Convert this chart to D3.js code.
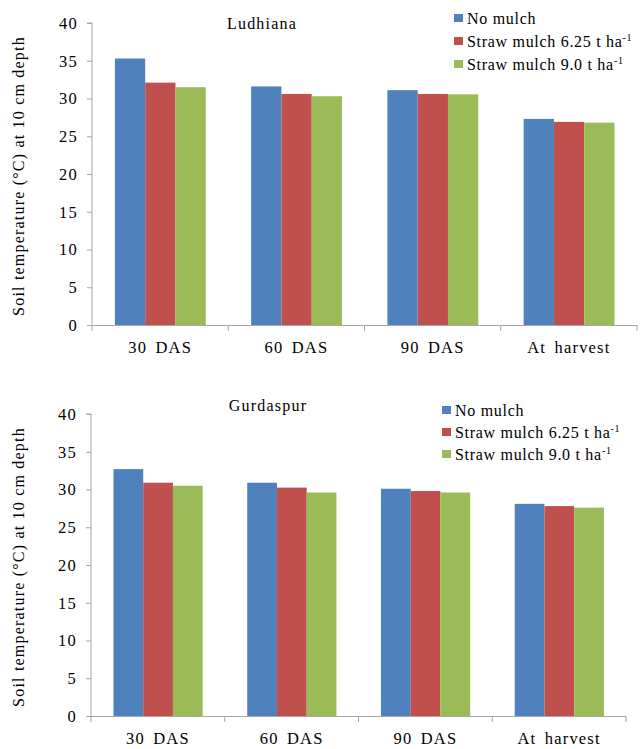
<!DOCTYPE html>
<html>
<head>
<meta charset="utf-8">
<script src="https://cdn.jsdelivr.net/npm/d3@7"></script>
<style>
  body { margin: 0; background: #fff; }
  svg text { fill: #000; letter-spacing: 1.2px; }
  .axis path, .axis line { stroke: #a6a6a6; }
</style>
</head>
<body>
<svg width="644" height="749" font-family="'Liberation Serif', 'Times New Roman', Times, 'DejaVu Serif', serif"></svg>
<script>
// soil temperature at 10 cm depth
const categories = ['30 DAS', '60 DAS', '90 DAS', 'At harvest'];
const series = ['No mulch', 'Straw mulch 6.25', 'Straw mulch 9.0'];
const colors = ['#4f81bd', '#c0504d', '#9bbb59'];
const yTicks = [0, 5, 10, 15, 20, 25, 30, 35, 40];

const ludhianaNoMulch = [35.3, 31.6, 31.1, 27.3];
const ludhianaStraw625 = [32.1, 30.6, 30.6, 26.9];
const ludhianaStraw90 = [31.5, 30.3, 30.55, 26.8];

const gurdaspurNoMulch = [32.7, 30.9, 30.1, 28.1];
const gurdaspurStraw625 = [30.9, 30.25, 29.8, 27.8];
const gurdaspurStraw90 = [30.5, 29.6, 29.6, 27.6];

const serif = "'Liberation Serif', 'Times New Roman', Times, 'DejaVu Serif', serif";
const svg = d3.select('svg');

function drawPanel(opt) {
  const values = opt.values;
  const x = d3.scaleBand()
    .domain(categories)
    .range([opt.left, opt.right]);
  const bw = x.bandwidth();
  const xSub = d3.scaleBand()
    .domain(series)
    .range([bw * 0.168, bw * 0.835]);
  const y = d3.scaleLinear()
    .domain([0, 40])
    .range([opt.bottom, opt.top]);

  const g = svg.append('g');

  // y axis
  const yAxis = g.append('g')
    .attr('class', 'axis')
    .attr('transform', `translate(${opt.left},0)`)
    .call(d3.axisLeft(y).tickValues(yTicks).tickSize(5).tickPadding(9).tickSizeOuter(0));
  yAxis.attr('font-family', null);
  yAxis.selectAll('text').style('font-size', '16.5px').style('font-family', serif);
  yAxis.select('.domain').attr('d', `M0,${opt.bottom}V${opt.top}H-5`);

  // x axis: tick marks at category boundaries
  const xAxis = g.append('g')
    .attr('class', 'axis')
    .attr('transform', `translate(0,${opt.bottom})`);
  xAxis.append('line')
    .attr('x1', opt.left).attr('x2', opt.right)
    .attr('y1', 0.5).attr('y2', 0.5);
  xAxis.selectAll('.bound')
    .data(categories.concat(['end']))
    .enter().append('line')
    .attr('class', 'bound')
    .attr('x1', (d, i) => i < categories.length ? x(d) : opt.right)
    .attr('x2', (d, i) => i < categories.length ? x(d) : opt.right)
    .attr('y1', 0).attr('y2', 6);

  g.selectAll('.xlab')
    .data(categories)
    .enter().append('text')
    .attr('class', 'xlab')
    .attr('x', (d) => x(d) + bw / 2)
    .attr('y', opt.bottom + 28)
    .attr('text-anchor', 'middle')
    .style('font-family', serif)
    .style('font-size', '16.5px')
    .style('word-spacing', '3px')
    .text((d) => d);

  // bars
  const groups = g.selectAll('.cat')
    .data(categories)
    .enter().append('g')
    .attr('transform', (d) => `translate(${x(d)},0)`);

  groups.selectAll('rect')
    .data((d, i) => series.map((s, j) => ({ s: s, v: values[j][i], c: colors[j] })))
    .enter().append('rect')
    .attr('x', (d) => xSub(d.s))
    .attr('width', xSub.bandwidth())
    .attr('y', (d) => y(d.v))
    .attr('height', (d) => opt.bottom - y(d.v))
    .attr('fill', (d) => d.c);

  // title
  g.append('text')
    .attr('x', opt.titleX)
    .attr('y', opt.titleY)
    .attr('text-anchor', 'middle')
    .style('font-family', serif)
    .style('font-size', '16px')
    .text(opt.title);

  // y label
  g.append('text')
    .attr('transform', `translate(24,${(opt.top + opt.bottom) / 2 + 2}) rotate(-90)`)
    .attr('text-anchor', 'middle')
    .style('font-family', serif)
    .style('font-size', '16px')
    .text('Soil temperature (°C) at 10 cm depth');

  // legend
  const leg = g.selectAll('.leg')
    .data(series)
    .enter().append('g')
    .attr('transform', (d, i) => `translate(${opt.legX},${opt.legY + i * opt.legStep})`);
  leg.append('rect')
    .attr('x', -13).attr('y', -10)
    .attr('width', 9).attr('height', 8)
    .attr('fill', (d, i) => colors[i]);
  const lt = leg.append('text')
    .style('font-family', serif)
    .style('font-size', '16px')
    .style('letter-spacing', '0.7px');
  lt.append('tspan').text((d) => d);
  lt.filter((d, i) => i > 0).append('tspan').text(' t ha');
  lt.filter((d, i) => i > 0).append('tspan')
    .attr('dy', -6)
    .style('font-size', '10px')
    .text('-1');
}

drawPanel({
  values: [ludhianaNoMulch, ludhianaStraw625, ludhianaStraw90],
  left: 92, right: 637, top: 23, bottom: 325,
  title: 'Ludhiana', titleX: 262, titleY: 29,
  legX: 467, legY: 24, legStep: 23
});

drawPanel({
  values: [gurdaspurNoMulch, gurdaspurStraw625, gurdaspurStraw90],
  left: 91, right: 626, top: 414, bottom: 716,
  title: 'Gurdaspur', titleX: 268, titleY: 411,
  legX: 455, legY: 416, legStep: 22
});
</script>
</body>
</html>
